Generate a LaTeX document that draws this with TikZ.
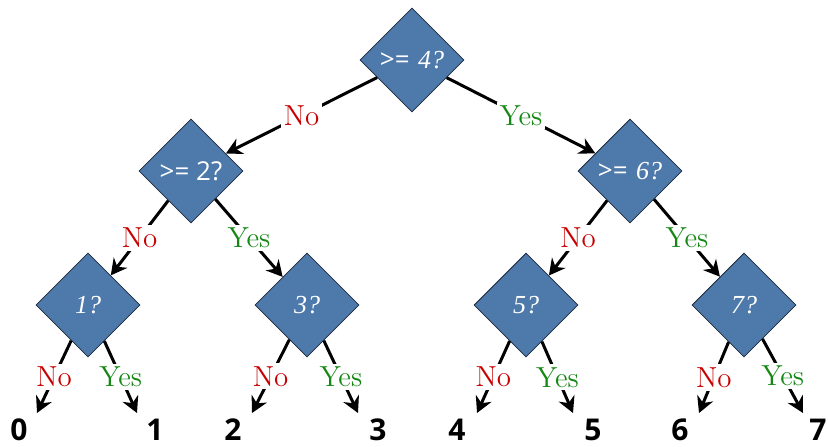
\documentclass[tikz,border=0pt]{standalone}
\usepackage{fontspec}
\newfontfamily\opensans{Open Sans}
\newfontfamily\qserif{Liberation Serif}
\usetikzlibrary{shapes.geometric,arrows.meta}
\definecolor{qblue}{RGB}{78,121,171}
\definecolor{qedge}{RGB}{30,40,60}
\definecolor{nored}{RGB}{200,0,0}
\definecolor{yesgreen}{RGB}{20,135,20}
\newcommand{\atleast}[1]{{\opensans >=} {\qserif\itshape #1?}}
\newcommand{\qdigit}[1]{{\qserif\itshape #1?}}

\begin{document}
\begin{tikzpicture}[
    x=0.5pt, y=-0.5pt,
    question/.style={diamond, draw=qedge, line width=0.4pt, fill=qblue, minimum size=52pt, inner sep=0pt, text=white, font=\fontsize{13}{15}\selectfont},
    leaf/.style={font=\opensans\bfseries\fontsize{15}{18}\selectfont},
    arrow/.style={-{Stealth[length=8pt,width=8.5pt]}, line width=1.5pt},
    no/.style={fill=white, inner sep=1.5pt, text=nored, font=\fontsize{14.5}{16}\selectfont},
    yes/.style={no, text=yesgreen}
]
\useasboundingbox (0,0) rectangle (828,446);

\node[question] (q4) at (412,60) {\atleast{4}};
\node[question] (q2) at (191,171) {{\opensans >= 2?}};
\node[question] (q6) at (630,171) {\atleast{6}};
\node[question] (q1) at (88,305) {\qdigit{1}};
\node[question] (q3) at (307,305) {\qdigit{3}};
\node[question] (q5) at (526,305) {\qdigit{5}};
\node[question] (q7) at (744,305) {\qdigit{7}};

\coordinate (t0) at (37,413);
\coordinate (t1) at (137,413);
\coordinate (t2) at (252,413);
\coordinate (t3) at (358,413);
\coordinate (t4) at (477,413);
\coordinate (t5) at (573,413);
\coordinate (t6) at (699,413);
\coordinate (t7) at (803,413);

\node[leaf] (l0) at (19,430) {0};
\node[leaf] (l1) at (155,430) {1};
\node[leaf] (l2) at (233,430) {2};
\node[leaf] (l3) at (378,430) {3};
\node[leaf] (l4) at (457,430) {4};
\node[leaf] (l5) at (593,430) {5};
\node[leaf] (l6) at (680,430) {6};
\node[leaf] (l7) at (818,430) {7};

\draw[arrow] (q4) -- node[no]{No} (q2);
\draw[arrow] (q4) -- node[yes]{Yes} (q6);
\draw[arrow] (q2) -- node[no]{No} (q1);
\draw[arrow] (q2) -- node[yes]{Yes} (q3);
\draw[arrow] (q6) -- node[no]{No} (q5);
\draw[arrow] (q6) -- node[yes]{Yes} (q7);
\draw[arrow] (q1) -- node[no]{No} (t0);
\draw[arrow] (q1) -- node[yes]{Yes} (t1);
\draw[arrow] (q3) -- node[no]{No} (t2);
\draw[arrow] (q3) -- node[yes]{Yes} (t3);
\draw[arrow] (q5) -- node[no]{No} (t4);
\draw[arrow] (q5) -- node[yes]{Yes} (t5);
\draw[arrow] (q7) -- node[no]{No} (t6);
\draw[arrow] (q7) -- node[yes]{Yes} (t7);
\end{tikzpicture}
\end{document}
